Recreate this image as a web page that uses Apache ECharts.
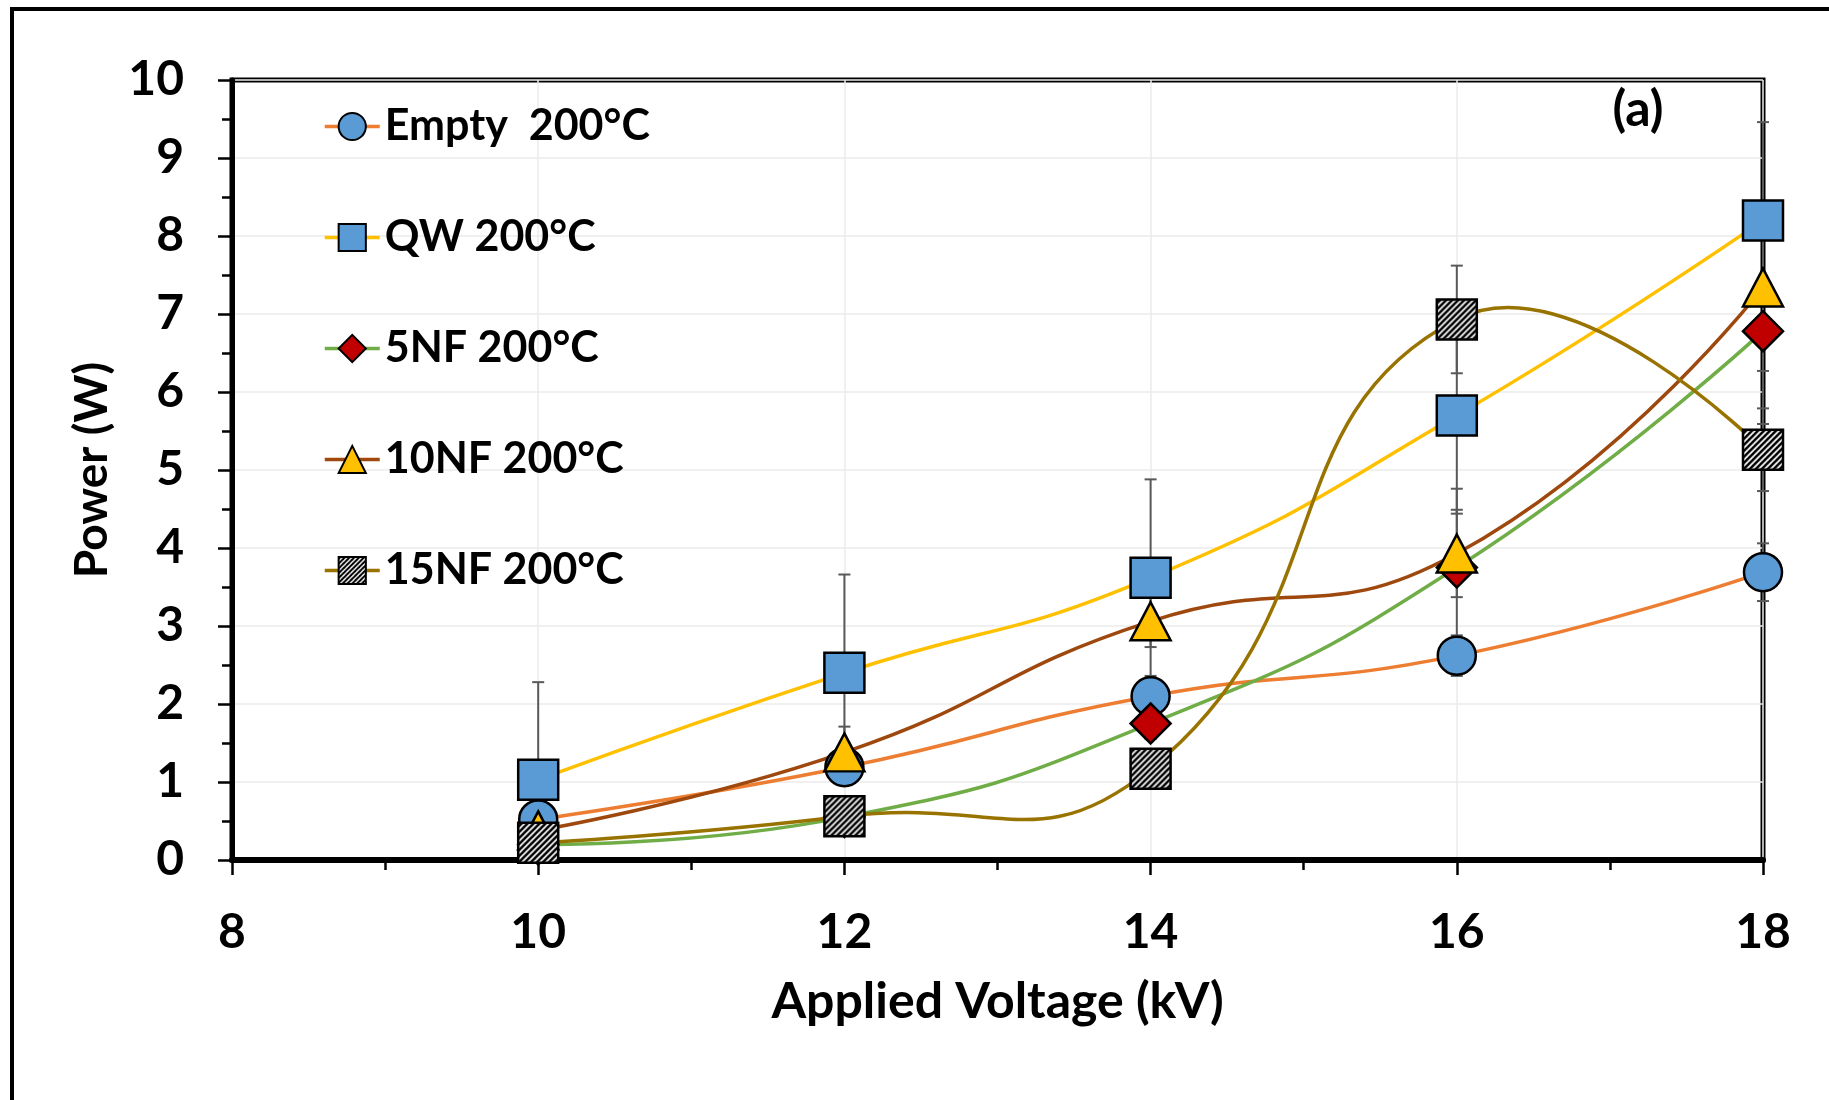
<!DOCTYPE html>
<html>
<head>
<meta charset="utf-8">
<script src="https://cdn.jsdelivr.net/npm/echarts@6/dist/echarts.min.js"></script>
<style>
  html, body { margin: 0; padding: 0; background: #ffffff; }
  #chart { width: 1829px; height: 1100px; }
</style>
</head>
<body>
<div id="chart"></div>
<script>
// Applied voltage (kV) at which power was measured
const voltage = [10, 12, 14, 16, 18];

// Axis tick labels
const xTickLabels = [8, 10, 12, 14, 16, 18];
const yTickLabels = [0, 1, 2, 3, 4, 5, 6, 7, 8, 9, 10];

// Series names
const seriesNames = ['Empty  200°C', 'QW 200°C', '5NF 200°C', '10NF 200°C', '15NF 200°C'];

// Power (W)
const powerEmpty = [0.52, 1.19, 2.10, 2.62, 3.69];
const powerQW    = [1.03, 2.40, 3.62, 5.70, 8.20];
const power5NF   = [0.20, 0.55, 1.75, 3.75, 6.78];
const power10NF  = [0.38, 1.38, 3.06, 3.93, 7.34];
const power15NF  = [0.22, 0.56, 1.17, 6.93, 5.26];

// Error bar half-widths (W)
const errEmpty = [0.05, 0.12, 0.21, 0.26, 0.37];
const errQW    = [1.25, 1.26, 1.26, 1.26, 1.26];
const err5NF   = [0.05, 0.15, 0.20, 1.01, 1.19];
const err10NF  = [0.05, 0.33, 0.33, 0.56, 1.07];
const err15NF  = [0.02, 0.06, 0.12, 0.69, 0.53];

const FONT = 'Lato, "Open Sans", sans-serif';
const LINE_WIDTH = 3.5;
const SMOOTH = 0.5;

// Black/white diagonal hatch tile used for the 15NF marker
function makeHatchCanvas() {
  const s = 6;
  const c = document.createElement('canvas');
  c.width = s; c.height = s;
  const g = c.getContext('2d');
  g.fillStyle = '#ffffff';
  g.fillRect(0, 0, s, s);
  g.strokeStyle = '#000000';
  g.lineWidth = 2.6;
  g.beginPath();
  g.moveTo(0, s); g.lineTo(s, 0);
  g.moveTo(-1, 1); g.lineTo(1, -1);
  g.moveTo(s - 1, s + 1); g.lineTo(s + 1, s - 1);
  g.stroke();
  return c;
}
const hatchCanvas = makeHatchCanvas();
// Series symbols are drawn as a unit path scaled by size/2, so the tile is scaled back down
const MARKER = 40;
const hatchMarker = { image: hatchCanvas, repeat: 'repeat', scaleX: 2 / MARKER, scaleY: 2 / MARKER };
const hatchLegend = { image: hatchCanvas, repeat: 'repeat', scaleX: 0.8, scaleY: 0.8 };

const valueSets = [powerEmpty, powerQW, power5NF, power10NF, power15NF];
const errorSets = [errEmpty, errQW, err5NF, err10NF, err15NF];
const lineColors = ['#ED7D31', '#FFC000', '#70AD47', '#9E480E', '#997300'];
const markerFills = ['#5B9BD5', '#5B9BD5', '#C00000', '#FFC000', hatchMarker];
const legendFills = ['#5B9BD5', '#5B9BD5', '#C00000', '#FFC000', hatchLegend];
const markerShapes = ['circle', 'rect', 'diamond', 'triangle', 'rect'];
const markerSizes = [38, MARKER, MARKER, [MARKER, 38], MARKER];

// Smoothed connecting curves: each data item draws the cubic segment that ends at it.
// Tangent at a point follows (next - prev), split by neighbouring segment lengths.
function curveSeries(k) {
  const vals = valueSets[k];
  const n = vals.length;
  return {
    type: 'custom',
    id: 'curve-' + k,
    data: voltage.map((x, i) => [x, vals[i]]),
    encode: { x: 0, y: 1 },
    z: 2,
    clip: false,
    silent: true,
    animation: false,
    renderItem: function (params, api) {
      const i = params.dataIndex;
      if (i === 0) return null;
      const pt = j => api.coord([voltage[j], vals[j]]);
      const dist = (a, b) => Math.hypot(b[0] - a[0], b[1] - a[1]);
      const a = pt(i - 1);
      const b = pt(i);
      let c1 = a;
      if (i - 2 >= 0) {
        const p = pt(i - 2);
        const lp = dist(p, a), ln = dist(a, b);
        const r = ln / (lp + ln);
        c1 = [a[0] + (b[0] - p[0]) * SMOOTH * r, a[1] + (b[1] - p[1]) * SMOOTH * r];
      }
      let c2 = b;
      if (i + 1 < n) {
        const q = pt(i + 1);
        const lp = dist(a, b), ln = dist(b, q);
        const r = ln / (lp + ln);
        c2 = [b[0] - (q[0] - a[0]) * SMOOTH * (1 - r), b[1] - (q[1] - a[1]) * SMOOTH * (1 - r)];
      }
      return {
        type: 'bezierCurve',
        shape: { x1: a[0], y1: a[1], cpx1: c1[0], cpy1: c1[1], cpx2: c2[0], cpy2: c2[1], x2: b[0], y2: b[1] },
        style: { stroke: lineColors[k], lineWidth: LINE_WIDTH, fill: null, lineCap: 'round' }
      };
    }
  };
}

// Markers (line series with hidden connecting line; the curves above draw the connection)
const markerSeries = seriesNames.map((name, k) => ({
  name: name,
  type: 'line',
  data: voltage.map((x, i) => [x, valueSets[k][i]]),
  symbol: markerShapes[k],
  symbolSize: markerSizes[k],
  showSymbol: true,
  showAllSymbol: true,
  clip: false,
  z: 3,
  lineStyle: { color: lineColors[k], width: LINE_WIDTH, opacity: 0 },
  itemStyle: { color: markerFills[k], borderColor: '#000000', borderWidth: 2.5 },
  emphasis: { disabled: true },
  animation: false
}));

// Error bars: [x, low, high]
const errorData = [];
valueSets.forEach((vals, k) => {
  vals.forEach((v, i) => {
    errorData.push([voltage[i], v - errorSets[k][i], v + errorSets[k][i]]);
  });
});

const errorSeries = {
  type: 'custom',
  id: 'error-bars',
  data: errorData,
  z: 1,
  silent: true,
  animation: false,
  encode: { x: 0, y: [1, 2] },
  renderItem: function (params, api) {
    const x = api.value(0);
    const lo = api.value(1);
    const hi = api.value(2);
    const top = api.coord([x, hi]);
    const bottomClamped = lo < 0;
    const bot = api.coord([x, Math.max(lo, 0)]);
    const cap = 6;
    const style = { stroke: '#595959', lineWidth: 2 };
    const children = [
      { type: 'line', shape: { x1: top[0], y1: top[1], x2: bot[0], y2: bot[1] }, style: style },
      { type: 'line', shape: { x1: top[0] - cap, y1: top[1], x2: top[0] + cap, y2: top[1] }, style: style }
    ];
    if (!bottomClamped) {
      children.push({ type: 'line', shape: { x1: bot[0] - cap, y1: bot[1], x2: bot[0] + cap, y2: bot[1] }, style: style });
    }
    return { type: 'group', children: children };
  }
};

const chart = echarts.init(document.getElementById('chart'), null, { renderer: 'canvas' });

chart.setOption({
  animation: false,
  backgroundColor: '#ffffff',
  textStyle: { fontFamily: FONT },
  grid: {
    left: 232, top: 80, width: 1531, height: 780,
    show: true, borderColor: '#000000', borderWidth: 5, backgroundColor: 'transparent'
  },
  legend: {
    data: seriesNames.map((name, k) => ({
      name: name,
      itemStyle: { color: legendFills[k] },
      lineStyle: { color: lineColors[k], width: LINE_WIDTH, opacity: 1 }
    })),
    orient: 'vertical',
    left: 318,
    top: 100,
    itemWidth: 55,
    itemHeight: 34,
    itemGap: 68,
    selectedMode: false,
    textStyle: { fontFamily: FONT, fontWeight: 'bold', fontSize: 43, color: '#000000' }
  },
  xAxis: {
    type: 'value',
    min: xTickLabels[0],
    max: xTickLabels[xTickLabels.length - 1],
    interval: xTickLabels[1] - xTickLabels[0],
    name: 'Applied Voltage (kV)',
    nameLocation: 'middle',
    nameGap: 117,
    nameTextStyle: { fontFamily: FONT, fontWeight: 'bold', fontSize: 50, color: '#000000' },
    axisLine: { show: true, onZero: false, lineStyle: { color: '#000000', width: 6 } },
    axisTick: { show: true, length: 15, lineStyle: { color: '#000000', width: 2.5 } },
    minorTick: { show: true, splitNumber: 2, length: 10, lineStyle: { color: '#000000', width: 2.5 } },
    axisLabel: { margin: 49, fontFamily: FONT, fontWeight: 'bold', fontSize: 48, color: '#000000' },
    splitLine: { show: true, lineStyle: { color: '#EBEBEB', width: 1.5 } }
  },
  yAxis: {
    type: 'value',
    min: yTickLabels[0],
    max: yTickLabels[yTickLabels.length - 1],
    interval: yTickLabels[1] - yTickLabels[0],
    name: 'Power (W)',
    nameLocation: 'middle',
    nameRotate: 90,
    nameGap: 117,
    nameTextStyle: { fontFamily: FONT, fontWeight: 'bold', fontSize: 46, color: '#000000' },
    axisLine: { show: true, onZero: false, lineStyle: { color: '#000000', width: 5 } },
    axisTick: { show: true, length: 14, lineStyle: { color: '#000000', width: 2.5 } },
    minorTick: { show: true, splitNumber: 2, length: 10, lineStyle: { color: '#000000', width: 2.5 } },
    axisLabel: { margin: 48, fontFamily: FONT, fontWeight: 'bold', fontSize: 48, color: '#000000' },
    splitLine: { show: true, lineStyle: { color: '#EBEBEB', width: 1.5 } }
  },
  graphic: [
    {
      type: 'rect', silent: true, z: 0,
      shape: { x: 12, y: 9, width: 1900, height: 1200 },
      style: { fill: 'none', stroke: '#000000', lineWidth: 4 }
    },
    {
      type: 'text', silent: true, z: 10,
      x: 1638, y: 110,
      style: {
        text: '(a)', fontFamily: FONT, fontWeight: 'bold', fontSize: 50,
        fill: '#000000', align: 'center', verticalAlign: 'middle'
      }
    }
  ],
  series: [errorSeries].concat(valueSets.map((v, k) => curveSeries(k))).concat(markerSeries)
});
</script>
</body>
</html>
